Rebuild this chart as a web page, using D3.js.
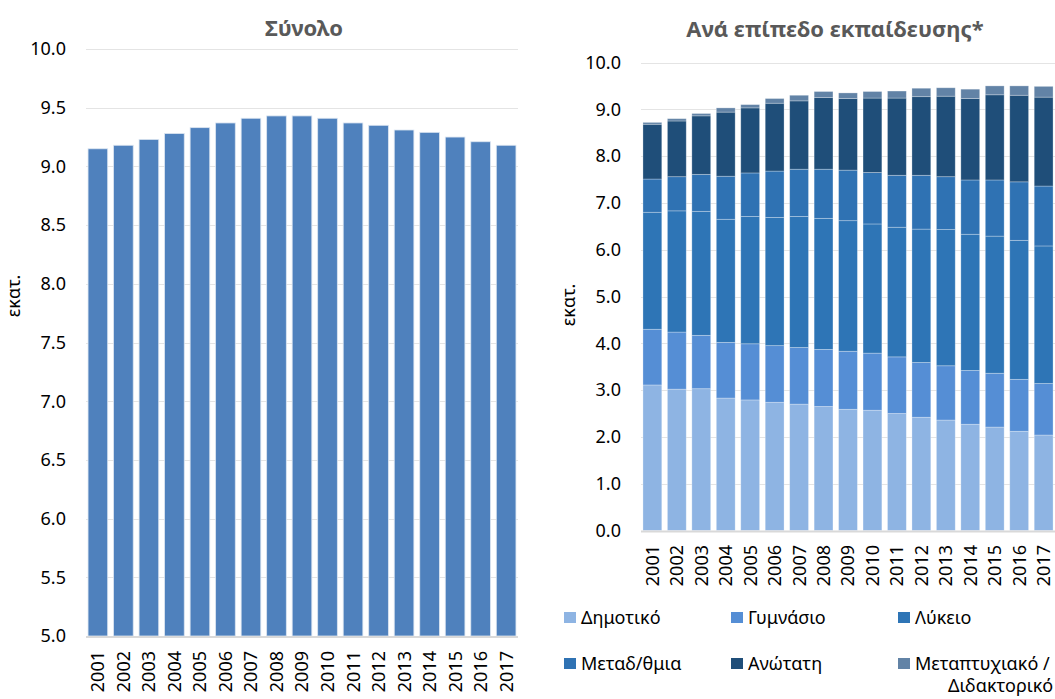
<!DOCTYPE html>
<html>
<head>
<meta charset="utf-8">
<script src="https://cdn.jsdelivr.net/npm/d3@7"></script>
<style>
  body { margin: 0; background: #fff; }
  svg text { font-family: "Noto Sans", "Open Sans", sans-serif; }
</style>
</head>
<body>
<div class="chart"></div>
<script>
// years shared by both panels
var years = ["2001","2002","2003","2004","2005","2006","2007","2008","2009","2010","2011","2012","2013","2014","2015","2016","2017"];

// left panel - total (millions)
var total = [9.15, 9.18, 9.23, 9.28, 9.33, 9.37, 9.41, 9.43, 9.43, 9.41, 9.37, 9.35, 9.31, 9.29, 9.25, 9.21, 9.18];
var totalTicks = [5.0, 5.5, 6.0, 6.5, 7.0, 7.5, 8.0, 8.5, 9.0, 9.5, 10.0];

// right panel - by education level (millions)
var levels = ["Δημοτικό", "Γυμνάσιο", "Λύκειο", "Μεταδ/θμια", "Ανώτατη", "Μεταπτυχιακό / Διδακτορικό"];
var dimotiko  = [3.11, 3.02, 3.03, 2.83, 2.79, 2.74, 2.70, 2.65, 2.59, 2.57, 2.50, 2.42, 2.36, 2.27, 2.21, 2.12, 2.04];
var gymnasio  = [1.19, 1.22, 1.14, 1.19, 1.20, 1.21, 1.21, 1.22, 1.24, 1.22, 1.21, 1.17, 1.16, 1.15, 1.15, 1.11, 1.10];
var lykeio    = [2.50, 2.59, 2.65, 2.63, 2.72, 2.74, 2.80, 2.80, 2.79, 2.76, 2.77, 2.85, 2.91, 2.91, 2.93, 2.97, 2.94];
var metadev   = [0.71, 0.73, 0.79, 0.92, 0.93, 0.99, 1.01, 1.05, 1.08, 1.10, 1.11, 1.15, 1.13, 1.16, 1.20, 1.25, 1.28];
var anotati   = [1.17, 1.19, 1.25, 1.37, 1.39, 1.45, 1.46, 1.53, 1.53, 1.59, 1.65, 1.68, 1.72, 1.74, 1.82, 1.85, 1.90];
var metaptyx  = [0.04, 0.05, 0.05, 0.09, 0.07, 0.10, 0.12, 0.13, 0.12, 0.14, 0.15, 0.18, 0.18, 0.20, 0.19, 0.20, 0.23];
var levelTicks = [0, 1, 2, 3, 4, 5, 6, 7, 8, 9, 10];

var colors = ["#8eb4e3", "#558ed5", "#2e75b6", "#2f72b3", "#1f4e79", "#6283a6"];

var W = 1055, H = 699;
var svg = d3.select(".chart").append("svg").attr("width", W).attr("height", H);

function gridAndTicks(g, y, ticks, x0, x1, fmt) {
  g.selectAll("line.grid").data(ticks).enter().append("line")
    .attr("class", "grid")
    .attr("x1", x0).attr("x2", x1)
    .attr("y1", function(d){ return Math.round(y(d)) + 0.5; })
    .attr("y2", function(d){ return Math.round(y(d)) + 0.5; })
    .style("stroke", "#e4e4e4").style("stroke-width", 1);
  g.selectAll("text.ytick").data(ticks).enter().append("text")
    .attr("class", "ytick")
    .attr("x", x0 - 20).attr("y", function(d){ return y(d); })
    .attr("dy", "0.35em")
    .attr("text-anchor", "end")
    .style("font-size", "18px").style("fill", "#000")
    .text(fmt);
}

function yearLabels(g, x, yTop) {
  g.selectAll("text.year").data(years).enter().append("text")
    .attr("class", "year")
    .attr("transform", function(d){ return "translate(" + (x(d) + x.bandwidth()/2) + "," + yTop + ") rotate(-90)"; })
    .attr("dy", "0.36em")
    .attr("text-anchor", "end")
    .style("font-size", "18px").style("fill", "#000")
    .text(function(d){ return d; });
}

// ---------- left panel ----------
var left = svg.append("g");
var xL = d3.scaleBand().domain(years).range([86, 518]).paddingInner(0.23).paddingOuter(0.08);
var yL = d3.scaleLinear().domain([5, 10]).range([636, 49]);

gridAndTicks(left, yL, totalTicks, 86, 518, d3.format(".1f"));

left.selectAll("rect").data(total).enter().append("rect")
  .attr("x", function(d, i){ return xL(years[i]); })
  .attr("y", function(d){ return yL(d); })
  .attr("width", xL.bandwidth())
  .attr("height", function(d){ return yL(5) - yL(d); })
  .style("fill", "#4f81bd")
  .style("stroke", "#dbe5f1").style("stroke-width", 0.8);

left.append("line").attr("x1", 86).attr("x2", 518).attr("y1", 637).attr("y2", 637)
  .style("stroke", "#d9d9d9").style("stroke-width", 2);

yearLabels(left, xL, 651);

left.append("text").attr("x", 304).attr("y", 36).attr("text-anchor", "middle")
  .style("font-size", "22px").style("font-weight", "bold").style("fill", "#595959")
  .text("Σύνολο");
left.append("text").attr("transform", "translate(20,296) rotate(-90)")
  .attr("text-anchor", "middle").style("font-size", "18px").text("εκατ.");

// ---------- right panel ----------
var right = svg.append("g");
var xR = d3.scaleBand().domain(years).range([641, 1055]).paddingInner(0.23).paddingOuter(0.08);
var yR = d3.scaleLinear().domain([0, 10]).range([530.5, 62.5]);

gridAndTicks(right, yR, levelTicks, 641, 1055, d3.format(".1f"));

var table = years.map(function(yr, i){
  var row = { year: yr };
  row[levels[0]] = dimotiko[i];
  row[levels[1]] = gymnasio[i];
  row[levels[2]] = lykeio[i];
  row[levels[3]] = metadev[i];
  row[levels[4]] = anotati[i];
  row[levels[5]] = metaptyx[i];
  return row;
});
var stacked = d3.stack().keys(levels)(table);

right.selectAll("g.layer").data(stacked).enter().append("g")
  .attr("class", "layer")
  .style("fill", function(d, i){ return colors[i]; })
  .selectAll("rect").data(function(d){ return d; }).enter().append("rect")
  .attr("x", function(d){ return xR(d.data.year); })
  .attr("y", function(d){ return yR(d[1]); })
  .attr("width", xR.bandwidth())
  .attr("height", function(d){ return yR(d[0]) - yR(d[1]); })
  .style("stroke", "#ffffff").style("stroke-opacity", 0.35).style("stroke-width", 0.8);

right.append("line").attr("x1", 641).attr("x2", 1055).attr("y1", 531.5).attr("y2", 531.5)
  .style("stroke", "#d9d9d9").style("stroke-width", 2);

yearLabels(right, xR, 545);

right.append("text").attr("x", 835).attr("y", 37).attr("text-anchor", "middle")
  .style("font-size", "22px").style("font-weight", "bold").style("fill", "#595959")
  .text("Ανά επίπεδο εκπαίδευσης*");
right.append("text").attr("transform", "translate(575,305) rotate(-90)")
  .attr("text-anchor", "middle").style("font-size", "18px").text("εκατ.");

// legend
var legX = [564, 731, 898], legY = [618, 664];
var leg = svg.append("g").selectAll("g").data(levels).enter().append("g")
  .attr("transform", function(d, i){ return "translate(" + legX[i % 3] + "," + legY[Math.floor(i / 3)] + ")"; });
leg.append("rect").attr("x", 0).attr("y", -6).attr("width", 12).attr("height", 11)
  .style("fill", function(d, i){ return colors[i]; });
leg.append("text").attr("x", 17).attr("dy", "0.35em")
  .style("font-size", "18px").style("fill", "#000")
  .each(function(d){
    var parts = d.split(" / ");
    var t = d3.select(this);
    if (parts.length > 1) {
      t.append("tspan").attr("x", 17).text(parts[0] + " /");
      t.append("tspan").attr("x", 17).attr("dx", 33).attr("dy", "1.2em").text(parts[1]);
    } else {
      t.text(d);
    }
  });
</script>
</body>
</html>
